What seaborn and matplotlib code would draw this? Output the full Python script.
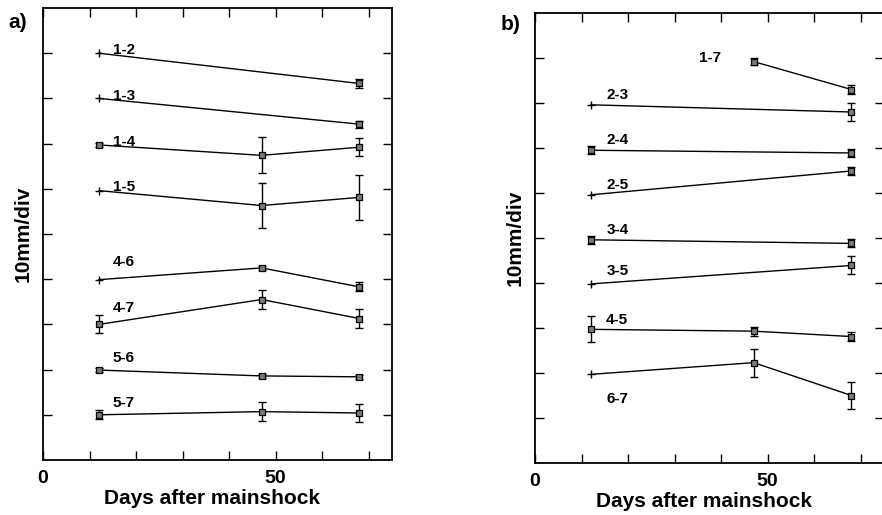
import numpy as np
import pandas as pd
import matplotlib
matplotlib.use("Agg")
import matplotlib.pyplot as plt
import seaborn as sns

nan = np.nan

# ---------------- data ----------------
days = [12, 47, 68]

# Panel a
a_pairs = ['1-2', '1-3', '1-4', '1-5', '4-6', '4-7', '5-6', '5-7']
a_val_12 = [90.0, 80.0, 69.7, 59.6, 39.9, 30.0, 19.9, 10.0]
a_err_12 = [nan, nan, 0.4, nan, nan, 2.0, 0.4, 1.0]
a_val_47 = [nan, nan, 67.4, 56.3, 42.5, 35.5, 18.6, 10.7]
a_err_47 = [nan, nan, 4.0, 5.0, 0.4, 2.1, 0.4, 2.1]
a_val_68 = [83.3, 74.3, 69.2, 58.1, 38.3, 31.3, 18.4, 10.4]
a_err_68 = [0.9, 0.8, 2.0, 5.0, 1.0, 2.0, 0.4, 2.1]

# Panel b
b_pairs = ['1-7', '2-3', '2-4', '2-5', '3-4', '3-5', '4-5', '6-7']
b_val_12 = [nan, 79.6, 69.5, 59.6, 49.6, 39.8, 29.7, 19.7]
b_err_12 = [nan, nan, 0.9, nan, 0.9, nan, 2.9, nan]
b_val_47 = [89.2, nan, nan, nan, nan, nan, 29.3, 22.3]
b_err_47 = [0.7, nan, nan, nan, nan, nan, 1.0, 3.1]
b_val_68 = [83.0, 78.0, 68.9, 64.9, 48.8, 43.9, 28.1, 15.0]
b_err_68 = [1.0, 2.0, 0.9, 0.9, 0.9, 2.0, 1.0, 2.9]

# label placement (text annotations)
a_label_x = [15, 15, 15, 15, 15, 15, 15, 15]
a_label_y = [89.8, 79.7, 69.5, 59.6, 43.0, 32.7, 21.7, 11.8]
b_label_x = [35.3, 15.3, 15.3, 15.3, 15.3, 15.3, 15.3, 15.3]
b_label_y = [89.2, 80.8, 70.9, 60.9, 50.9, 41.7, 30.8, 13.3]

x_ticks = [0, 10, 20, 30, 40, 50, 60, 70]
x_ticklabels = ['0', '', '', '', '', '50', '', '']
y_ticks = [10, 20, 30, 40, 50, 60, 70, 80, 90]


def build(pairs, vals, errs):
    rows = []
    for i, p in enumerate(pairs):
        for d, v, e in zip(days, vals, errs):
            if not np.isnan(v[i]):
                rows.append({'pair': p, 'day': d, 'value': v[i], 'err': e[i]})
    return pd.DataFrame(rows)


df_a = build(a_pairs, [a_val_12, a_val_47, a_val_68], [a_err_12, a_err_47, a_err_68])
df_b = build(b_pairs, [b_val_12, b_val_47, b_val_68], [b_err_12, b_err_47, b_err_68])

# ---------------- style ----------------
sns.set_theme(style="ticks")
plt.rcParams['font.family'] = ['Liberation Sans', 'DejaVu Sans']
plt.rcParams['font.weight'] = 'bold'
plt.rcParams['axes.labelweight'] = 'bold'
plt.rcParams['text.color'] = 'black'
plt.rcParams['axes.labelcolor'] = 'black'
plt.rcParams['xtick.color'] = 'black'
plt.rcParams['ytick.color'] = 'black'
plt.rcParams['axes.edgecolor'] = 'black'

fig = plt.figure(figsize=(8.82, 5.15), dpi=100)
ax_a = fig.add_axes([43 / 882, 55 / 515, 349 / 882, 452 / 515])
ax_b = fig.add_axes([535 / 882, 52 / 515, 349 / 882, 450 / 515])


def draw(ax, df, pairs, lx, ly, tag, tag_y):
    sns.lineplot(data=df, x='day', y='value', units='pair', estimator=None,
                 color='black', lw=1.0, sort=False, legend=False, ax=ax)
    sq = df[~df['err'].isna()]
    pl = df[df['err'].isna()]
    ax.errorbar(sq['day'], sq['value'], yerr=sq['err'], fmt='none',
                ecolor='black', elinewidth=1.0, capsize=3.2, capthick=1.0, zorder=3)
    sns.scatterplot(data=sq, x='day', y='value', marker='s', s=15,
                    color='#7a7a7a', edgecolor='black', linewidth=0.9,
                    zorder=4, legend=False, ax=ax)
    sns.scatterplot(data=pl, x='day', y='value', marker='+', s=30,
                    color='black', linewidth=1.0, zorder=4, legend=False, ax=ax)
    for p, x, y in zip(pairs, lx, ly):
        ax.text(x, y, p, fontsize=11, fontweight='bold', va='baseline',
                ha='left', color='black')

    ax.set_xlim(0, 75)
    ax.set_ylim(0, 100)
    ax.set_xticks(x_ticks)
    ax.set_xticklabels(x_ticklabels)
    ax.set_yticks(y_ticks)
    ax.set_yticklabels([])
    ax.tick_params(axis='x', direction='in', length=6.5, width=1.0, top=True,
                   pad=7, labelsize=14)
    ax.tick_params(axis='y', direction='in', length=6.5, width=1.0,
                   left=True, right=True)
    for s in ax.spines.values():
        s.set_visible(True)
        s.set_linewidth(1.3)
        s.set_color('black')
    ax.set_xlabel('Days after mainshock', fontsize=15, fontweight='bold')
    ax.set_ylabel('10mm/div', fontsize=15, fontweight='bold')
    ax.yaxis.set_label_coords(-0.03, 0.5)
    ax.xaxis.set_label_coords(0.483, -0.065)
    ax.xaxis.label.set_va('top')
    ax.text(-0.1, tag_y, tag, transform=ax.transAxes, fontsize=15,
            fontweight='bold', ha='left', va='top', color='black')


draw(ax_a, df_a, a_pairs, a_label_x, a_label_y, 'a)', 0.99)
draw(ax_b, df_b, b_pairs, b_label_x, b_label_y, 'b)', 0.995)

fig.savefig('out.png', dpi=100)
